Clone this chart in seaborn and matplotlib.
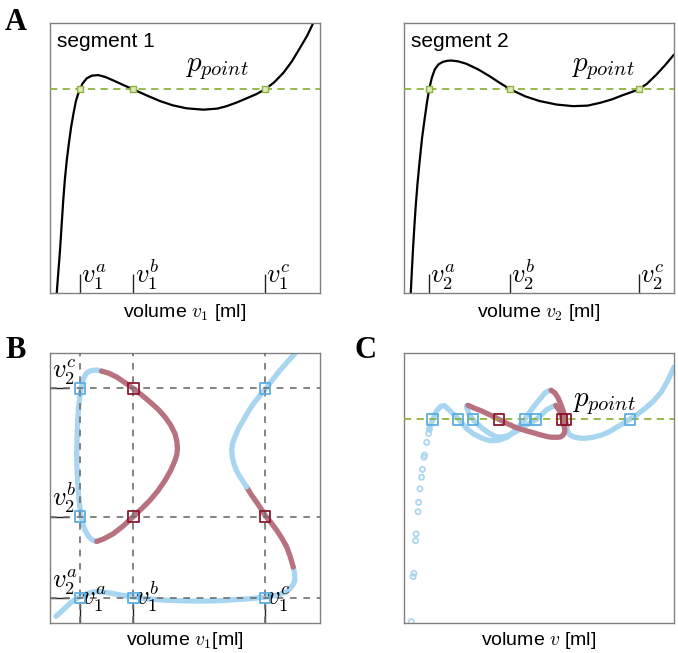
import seaborn as sns
import matplotlib.pyplot as plt

# volumes and pressures in normalised units (0..1 of each axis)
p_point = 0.754

# segment 1 pressure-volume curve
seg1_v = [0.025, 0.031, 0.037, 0.043, 0.049, 0.055, 0.062, 0.070, 0.078, 0.087, 0.096, 0.104, 0.111, 0.120,
          0.136, 0.155, 0.179, 0.205, 0.235, 0.270, 0.309, 0.360, 0.407, 0.455, 0.506, 0.568, 0.620,
          0.654, 0.690, 0.728, 0.765, 0.796, 0.830, 0.864, 0.896, 0.926, 0.952, 0.975]
seg1_p = [0.000, 0.080, 0.157, 0.250, 0.342, 0.420, 0.490, 0.555, 0.613, 0.665, 0.711, 0.737, 0.754, 0.775,
          0.795, 0.805, 0.807, 0.800, 0.787, 0.771, 0.754, 0.731, 0.711, 0.695, 0.684, 0.679, 0.683,
          0.692, 0.705, 0.721, 0.737, 0.754, 0.780, 0.815, 0.858, 0.908, 0.952, 1.000]

# segment 2 pressure-volume curve
seg2_v = [0.025, 0.029, 0.033, 0.038, 0.043, 0.050, 0.058, 0.067, 0.077, 0.085, 0.093, 0.103, 0.114, 0.128,
          0.144, 0.160, 0.175, 0.200, 0.231, 0.275, 0.317, 0.355, 0.394, 0.450, 0.502, 0.565, 0.626,
          0.680, 0.725, 0.770, 0.811, 0.845, 0.869, 0.900, 0.935, 0.968, 1.000]
seg2_p = [0.000, 0.080, 0.156, 0.240, 0.317, 0.405, 0.489, 0.575, 0.649, 0.705, 0.754, 0.797, 0.828, 0.847,
          0.856, 0.860, 0.861, 0.858, 0.849, 0.828, 0.803, 0.778, 0.754, 0.728, 0.711, 0.698, 0.692,
          0.694, 0.704, 0.717, 0.733, 0.745, 0.754, 0.775, 0.809, 0.845, 0.883]

# intersection volumes with p_point
v1_marks = [0.111, 0.309, 0.796]
v2_marks = [0.093, 0.394, 0.869]
v1_names = [r"$v_1^a$", r"$v_1^b$", r"$v_1^c$"]
v2_names = [r"$v_2^a$", r"$v_2^b$", r"$v_2^c$"]

# B: equal-pressure pairs (v1, v2), outer branch
b_low_v1 = [0.022, 0.049, 0.080, 0.100, 0.115, 0.135, 0.160, 0.190, 0.222, 0.260, 0.309, 0.370, 0.432,
            0.500, 0.556, 0.620, 0.679, 0.740, 0.799, 0.852, 0.875, 0.889, 0.900, 0.907, 0.906, 0.901]
b_low_v2 = [0.025, 0.049, 0.078, 0.092, 0.099, 0.108, 0.115, 0.116, 0.111, 0.104, 0.096, 0.089, 0.084,
            0.082, 0.081, 0.082, 0.086, 0.090, 0.096, 0.106, 0.115, 0.127, 0.142, 0.158, 0.183, 0.207]
b_red_v1 = [0.901, 0.890, 0.877, 0.860, 0.840, 0.820, 0.799, 0.782, 0.765, 0.745, 0.728]
b_red_v2 = [0.207, 0.245, 0.281, 0.312, 0.343, 0.370, 0.395, 0.422, 0.448, 0.476, 0.504]
b_up_v1 = [0.728, 0.704, 0.690, 0.681, 0.675, 0.673, 0.676, 0.685, 0.698, 0.716, 0.734, 0.753, 0.776,
           0.799, 0.825, 0.852, 0.880, 0.907, 0.930]
b_up_v2 = [0.504, 0.541, 0.565, 0.590, 0.615, 0.640, 0.665, 0.689, 0.720, 0.751, 0.782, 0.812, 0.840,
           0.868, 0.902, 0.936, 0.968, 0.998, 1.030]

# B: closed inner loop
loop_blue_v1 = [0.191, 0.175, 0.160, 0.145, 0.133, 0.122, 0.115, 0.110, 0.106, 0.103, 0.101, 0.099, 0.100,
                0.102, 0.107, 0.115, 0.122, 0.130, 0.140, 0.151, 0.162, 0.173]
loop_blue_v2 = [0.933, 0.937, 0.936, 0.932, 0.923, 0.900, 0.868, 0.835, 0.800, 0.757, 0.714, 0.627, 0.575,
                0.528, 0.460, 0.395, 0.365, 0.343, 0.325, 0.312, 0.305, 0.302]
loop_red_v1 = [0.173, 0.200, 0.235, 0.272, 0.309, 0.340, 0.370, 0.400, 0.426, 0.447, 0.463, 0.470, 0.472,
               0.470, 0.463, 0.447, 0.426, 0.400, 0.370, 0.340, 0.309, 0.278, 0.247, 0.218, 0.191]
loop_red_v2 = [0.302, 0.312, 0.331, 0.360, 0.395, 0.424, 0.454, 0.490, 0.528, 0.565, 0.602, 0.625, 0.646,
               0.672, 0.701, 0.733, 0.763, 0.792, 0.819, 0.844, 0.868, 0.890, 0.911, 0.925, 0.933]
# stability of the 3x3 crossings, rows v2 a/b/c, cols v1 a/b/c
b_stable = [[True, True, True],
            [True, False, False],
            [True, False, True]]

# C: pressure vs mean volume
c_sparse_v = [0.027, 0.034, 0.037, 0.043, 0.045, 0.052, 0.054, 0.059, 0.065, 0.068, 0.074, 0.076, 0.084,
              0.091, 0.094]
c_sparse_p = [0.005, 0.172, 0.184, 0.305, 0.330, 0.412, 0.447, 0.497, 0.540, 0.569, 0.614, 0.622, 0.669,
              0.702, 0.717]
c_a_blue_v = [0.094, 0.099, 0.107, 0.120, 0.137, 0.150, 0.166, 0.185, 0.203, 0.230, 0.258, 0.290, 0.318,
              0.350, 0.382, 0.415, 0.447, 0.479, 0.508, 0.522, 0.535, 0.545]
c_a_blue_p = [0.717, 0.735, 0.754, 0.785, 0.803, 0.805, 0.790, 0.772, 0.754, 0.722, 0.700, 0.684, 0.675,
              0.677, 0.688, 0.715, 0.754, 0.800, 0.835, 0.852, 0.860, 0.862]
c_a_red_v = [0.545, 0.558, 0.570, 0.580, 0.588, 0.594, 0.598, 0.601, 0.603]
c_a_red_p = [0.862, 0.853, 0.835, 0.812, 0.790, 0.772, 0.754, 0.735, 0.720]
c_b_blue_v = [0.603, 0.608, 0.615, 0.630, 0.650, 0.670, 0.700, 0.732, 0.760, 0.781, 0.808, 0.835, 0.865,
              0.893, 0.925, 0.954, 0.978, 1.000]
c_b_blue_p = [0.720, 0.705, 0.696, 0.689, 0.685, 0.684, 0.688, 0.696, 0.708, 0.721, 0.737, 0.754, 0.773,
              0.795, 0.823, 0.857, 0.900, 0.948]
c_loop_blue_v = [0.562, 0.548, 0.528, 0.510, 0.490, 0.470, 0.453, 0.430, 0.408, 0.385, 0.363, 0.340,
                 0.315, 0.285, 0.255, 0.242, 0.236, 0.231, 0.233, 0.237]
c_loop_blue_p = [0.806, 0.800, 0.790, 0.772, 0.754, 0.742, 0.733, 0.718, 0.705, 0.694, 0.688, 0.690,
                 0.703, 0.725, 0.754, 0.772, 0.790, 0.800, 0.805, 0.806]
c_loop_red_v = [0.237, 0.260, 0.283, 0.318, 0.352, 0.382, 0.412, 0.445, 0.477, 0.505, 0.532, 0.548, 0.559,
                0.572, 0.582, 0.590, 0.594, 0.596, 0.594, 0.588, 0.579, 0.570, 0.562]
c_loop_red_p = [0.806, 0.796, 0.787, 0.771, 0.754, 0.739, 0.725, 0.714, 0.705, 0.697, 0.690, 0.688, 0.688,
                0.688, 0.690, 0.697, 0.705, 0.715, 0.725, 0.754, 0.780, 0.795, 0.806]
c_blue_marks = [0.105, 0.200, 0.256, 0.447, 0.490, 0.836]
c_red_marks = [0.352, 0.586, 0.601]

sns.set_style("white")
plt.rcParams["font.family"] = ["Liberation Sans", "DejaVu Sans"]
plt.rcParams["mathtext.fontset"] = "cm"
plt.rcParams["text.color"] = "black"
plt.rcParams["axes.labelcolor"] = "black"

BLUE = "#a8d5f0"
RED = "#b7717f"
BLUE_SQ = "#5caee2"
RED_SQ = "#8a1a2c"
GREEN = "#8db33c"
LW = 3.8

fig = plt.figure(figsize=(6.78, 6.53), dpi=100)
W, H = 270 / 678, 270 / 653
axA1 = fig.add_axes([50 / 678, 360 / 653, W, H])
axA2 = fig.add_axes([404 / 678, 360 / 653, W, H])
axB = fig.add_axes([50 / 678, 30 / 653, W, H])
axC = fig.add_axes([404 / 678, 30 / 653, W, H])

for ax in (axA1, axA2, axB, axC):
    ax.set_xlim(0, 1)
    ax.set_ylim(0, 1)
    for s in ax.spines.values():
        s.set_color("#808080")
        s.set_linewidth(1.0)
    ax.set_yticks([])


def line(ax, x, y, color, lw=LW, z=2):
    sns.lineplot(x=x, y=y, sort=False, estimator=None, color=color, lw=lw, ax=ax,
                 solid_capstyle="round", zorder=z)


def squares(ax, x, y, color, s=55, lw=1.3, fc="none"):
    sns.scatterplot(x=x, y=y, marker="s", s=s, color=color, facecolor=fc, edgecolor=color,
                    linewidth=lw, ax=ax, zorder=5)


def bottom_marks(ax, marks, names, ypos):
    ax.set_xticks(marks)
    ax.set_xticklabels([])
    ax.tick_params(axis="x", direction="in", length=14, width=1.0, color="#222222", bottom=True)
    for m, n in zip(marks, names):
        ax.text(m + 0.004, ypos, n, fontsize=19, ha="left", va="bottom",
                transform=ax.get_xaxis_transform())


# --- A: the two segments
for ax, v, p, marks, names, seg, vname, px in [
        (axA1, seg1_v, seg1_p, v1_marks, v1_names, "segment 1", "1", 0.50),
        (axA2, seg2_v, seg2_p, v2_marks, v2_names, "segment 2", "2", 0.62)]:
    line(ax, v, p, "black", lw=1.6)
    ax.axhline(p_point, ls=(0, (4, 3)), color=GREEN, lw=1.3, zorder=3)
    squares(ax, marks, [p_point] * 3, GREEN, s=22, lw=1.0, fc="#dde9bf")
    bottom_marks(ax, marks, names, 0.005)
    ax.text(0.025, 0.965, seg, fontsize=15, ha="left", va="top", transform=ax.transAxes)
    ax.text(px, 0.78, r"$p_{point}$", fontsize=21, ha="left", va="bottom")
    ax.set_xlabel(rf"volume $v_{vname}$ [ml]", fontsize=14)
    ax.xaxis.set_label_coords(0.5, -0.035)
    ax.set_ylabel(r"pressure $p$ [kPa]", fontsize=14, labelpad=8)

# --- B: equal-pressure pairs
line(axB, b_low_v1, b_low_v2, BLUE)
line(axB, b_red_v1, b_red_v2, RED)
line(axB, b_up_v1, b_up_v2, BLUE)
line(axB, loop_blue_v1, loop_blue_v2, BLUE)
line(axB, loop_red_v1, loop_red_v2, RED)
for m in v1_marks:
    axB.axvline(m, ls=(0, (4, 4)), color="#707070", lw=1.2, zorder=3)
for m in v2_marks:
    axB.axhline(m, ls=(0, (4, 4)), color="#707070", lw=1.2, zorder=3)
for i, y2 in enumerate(v2_marks):
    for j, x1 in enumerate(v1_marks):
        squares(axB, [x1], [y2], BLUE_SQ if b_stable[i][j] else RED_SQ)
bottom_marks(axB, v1_marks, v1_names, 0.035)
axB.set_yticks(v2_marks)
axB.set_yticklabels([])
axB.tick_params(axis="y", direction="in", length=14, width=1.0, color="#222222", left=True)
for m, n in zip(v2_marks, v2_names):
    axB.text(0.006, m + 0.005, n, fontsize=19, ha="left", va="bottom",
             transform=axB.get_yaxis_transform())
axB.set_xlabel(r"volume $v_1$[ml]", fontsize=14)
axB.xaxis.set_label_coords(0.5, -0.025)
axB.set_ylabel(r"volume $v_2$[ml]", fontsize=14, labelpad=8)

# --- C: pressure vs mean volume
sns.scatterplot(x=c_sparse_v, y=c_sparse_p, marker="o", s=14, color=BLUE, facecolor="none",
                edgecolor=BLUE, linewidth=1.2, ax=axC, zorder=2)
line(axC, c_a_blue_v, c_a_blue_p, BLUE)
line(axC, c_a_red_v, c_a_red_p, RED)
line(axC, c_b_blue_v, c_b_blue_p, BLUE)
line(axC, c_loop_blue_v, c_loop_blue_p, BLUE)
line(axC, c_loop_red_v, c_loop_red_p, RED)
axC.axhline(p_point, ls=(0, (4, 3)), color=GREEN, lw=1.3, zorder=3)
squares(axC, c_blue_marks, [p_point] * 6, BLUE_SQ)
squares(axC, c_red_marks, [p_point] * 3, RED_SQ)
axC.set_xticks([])
axC.text(0.623, 0.763, r"$p_{point}$", fontsize=21, ha="left", va="bottom")
axC.set_xlabel(r"volume $v$ [ml]", fontsize=14)
axC.xaxis.set_label_coords(0.5, -0.025)
axC.set_ylabel(r"pressure $p$ [kPa]", fontsize=14, labelpad=8)

for lab, x, y in [("A", 5, 8), ("B", 5, 336), ("C", 355, 336)]:
    fig.text(x / 678, 1 - y / 653, lab, fontsize=22, fontweight="bold",
             family="Liberation Serif", ha="left", va="top")

fig.savefig("out.png", dpi=100)
